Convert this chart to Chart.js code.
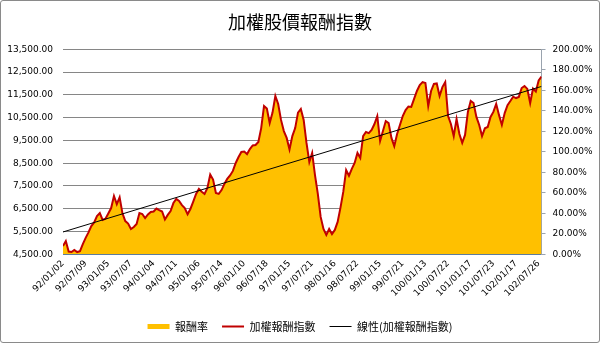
<!DOCTYPE html>
<html>
<head>
<meta charset="utf-8">
<title>加權股價報酬指數</title>
<script src="https://cdn.jsdelivr.net/npm/chart.js@4.4.0/dist/chart.umd.min.js"></script>
<style>
  html, body { margin: 0; padding: 0; background: #fff; }
  #frame { width: 600px; height: 343px; box-sizing: border-box; border: 1px solid #8a8a8a; border-radius: 3px; overflow: hidden; }
  canvas { display: block; }
</style>
</head>
<body>
<div id="frame"><canvas id="myChart" width="598" height="341"></canvas></div>
<script>
/////////////////////////////
// Data
/////////////////////////////

// 加權報酬指數 (about 8 samples per half year)
const indexValues = [
  4860, 5080, 4620, 4600, 4690, 4600, 4640, 4950, 5220, 5460,
  5740, 5900, 6180, 6310, 6010, 6060, 6290, 6530, 7060, 6700,
  7000, 6300, 5960, 5850, 5610, 5700, 5830, 6310, 6270, 6090,
  6250, 6360, 6380, 6510, 6440, 6380, 6030, 6230, 6400, 6750,
  6930, 6840, 6660, 6530, 6260, 6490, 6810, 7150, 7370, 7250,
  7150, 7410, 8000, 7780, 7190, 7150, 7320, 7590, 7810, 7960,
  8160, 8510, 8770, 8990, 9010, 8900, 9120, 9280, 9300, 9430,
  10040, 11010, 10900, 10260, 10720, 11450, 11100, 10400, 9910, 9610,
  9100, 9690, 10040, 10720, 10880, 10400, 9390, 8550, 8950, 7980,
  7150, 6140, 5610, 5350, 5610, 5390, 5570, 5920, 6550, 7250,
  8200, 7950, 8250, 8510, 8950, 8730, 9690, 9870, 9820, 9960,
  10220, 10570, 9480, 9910, 10350, 10260, 9610, 9250, 9780, 10180,
  10570, 10830, 10990, 10970, 11320, 11670, 11930, 12060, 12020, 11010,
  11670, 11980, 12000, 11450, 11840, 12060, 10570, 10220, 9690, 10440,
  9780, 9390, 9740, 10750, 11230, 11140, 10530, 10180, 9690, 10030,
  10090, 10530, 10750, 11100, 10610, 10180, 10700, 11050, 11230, 11420,
  11360, 11410, 11800, 11890, 11760, 11140, 11780, 11650, 12130, 12300
];

// 報酬率 (%)
const returnPct = [
  8.0, 12.9, 2.7, 2.2, 4.2, 2.2, 3.1, 10.0, 16.0, 21.3,
  27.6, 31.1, 37.3, 40.2, 33.6, 34.7, 39.8, 45.1, 56.9, 48.9,
  55.6, 40.0, 32.4, 30.0, 24.7, 26.7, 29.6, 40.2, 39.3, 35.3,
  38.9, 41.3, 41.8, 44.7, 43.1, 41.8, 34.0, 38.4, 42.2, 50.0,
  54.0, 52.0, 48.0, 45.1, 39.1, 44.2, 51.3, 58.9, 63.8, 61.1,
  58.9, 64.7, 77.8, 72.9, 59.8, 58.9, 62.7, 68.7, 73.6, 76.9,
  81.3, 89.1, 94.9, 99.8, 100.2, 97.8, 102.7, 106.2, 106.7, 109.6,
  123.1, 144.7, 142.2, 128.0, 138.2, 154.4, 146.7, 131.1, 120.2, 113.6,
  102.2, 115.3, 123.1, 138.2, 141.8, 131.1, 108.7, 90.0, 98.9, 77.3,
  58.9, 36.4, 24.7, 18.9, 24.7, 19.8, 23.8, 31.6, 45.6, 61.1,
  82.2, 76.7, 83.3, 89.1, 98.9, 94.0, 115.3, 119.3, 118.2, 121.3,
  127.1, 134.9, 110.7, 120.2, 130.0, 128.0, 113.6, 105.6, 117.3, 126.2,
  134.9, 140.7, 144.2, 143.8, 151.6, 159.3, 165.1, 168.0, 167.1, 144.7,
  159.3, 166.2, 166.7, 154.4, 163.1, 168.0, 134.9, 127.1, 115.3, 132.0,
  117.3, 108.7, 116.4, 138.9, 149.6, 147.6, 134.0, 126.2, 115.3, 122.9,
  124.2, 134.0, 138.9, 146.7, 135.8, 126.2, 137.8, 145.6, 149.6, 153.8,
  152.4, 153.6, 162.2, 164.2, 161.3, 147.6, 161.8, 158.9, 169.6, 173.3
];

// 線性 trend, first and last point
const trendEnds = [5480, 11870];

// date labels, one every half year
const tickLabels = [
  '92/01/02', '92/07/09', '93/01/05', '93/07/07', '94/01/04', '94/07/11',
  '95/01/06', '95/07/14', '96/01/10', '96/07/18', '97/01/15', '97/07/21',
  '98/01/16', '98/07/22', '99/01/15', '99/07/21', '100/01/13', '100/07/22',
  '101/01/17', '101/07/23', '102/01/17', '102/07/26'
];
const pointsPerLabel = 8;

/////////////////////////////
// Chart
/////////////////////////////

const lastIdx = indexValues.length - 1;
const toXY = arr => arr.map((v, i) => ({ x: i, y: v }));

// legend marks: box for the area, plain lines for the others
const legendMarks = [
  { pointStyle: 'rect', lineWidth: 0 },
  { pointStyle: 'line', lineWidth: 2 },
  { pointStyle: 'line', lineWidth: 1 }
];

Chart.defaults.font.family = '"DejaVu Sans", Verdana, sans-serif';
Chart.defaults.font.size = 9;
Chart.defaults.color = '#000';

const ctx = document.getElementById('myChart').getContext('2d');
const myChart = new Chart(ctx, {
  type: 'line',
  data: {
    datasets: [
      {
        label: '報酬率',
        data: toXY(returnPct),
        yAxisID: 'y1',
        fill: 'origin',
        backgroundColor: '#FFC000',
        borderColor: '#FFC000',
        borderWidth: 0,
        pointRadius: 0,
        order: 3
      },
      {
        label: '加權報酬指數',
        data: toXY(indexValues),
        yAxisID: 'y',
        fill: false,
        borderColor: '#C00000',
        backgroundColor: '#C00000',
        borderWidth: 2,
        pointRadius: 0,
        order: 2
      },
      {
        label: '線性(加權報酬指數)',
        data: [{ x: 0, y: trendEnds[0] }, { x: lastIdx, y: trendEnds[1] }],
        yAxisID: 'y',
        fill: false,
        borderColor: '#000',
        backgroundColor: '#000',
        borderWidth: 1,
        pointRadius: 0,
        order: 1
      }
    ]
  },
  options: {
    responsive: false,
    animation: false,
    layout: { padding: 0 },
    plugins: {
      tooltip: { enabled: false },
      title: {
        display: true,
        text: '加權股價報酬指數',
        color: '#000',
        font: { family: '"Noto Sans CJK TC", sans-serif', size: 18, weight: 'normal' },
        padding: { top: 10, bottom: 16.7 }
      },
      legend: {
        position: 'bottom',
        labels: {
          color: '#000',
          font: { family: '"Noto Sans CJK TC", sans-serif', size: 11 },
          usePointStyle: true,
          pointStyleWidth: 22,
          boxHeight: 5,
          padding: 14,
          generateLabels: chart => chart.data.datasets.map((ds, i) => ({
            text: ds.label,
            datasetIndex: i,
            fillStyle: ds.backgroundColor,
            strokeStyle: ds.borderColor,
            lineWidth: legendMarks[i].lineWidth,
            pointStyle: legendMarks[i].pointStyle,
            fontColor: '#000',
            hidden: false
          }))
        }
      }
    },
    scales: {
      x: {
        type: 'linear',
        min: 0,
        max: lastIdx,
        offset: false,
        grid: { display: false, drawTicks: false },
        border: { display: true, color: '#5b7ba0', width: 1 },
        ticks: {
          stepSize: pointsPerLabel,
          includeBounds: false,
          autoSkip: false,
          minRotation: 45,
          maxRotation: 45,
          padding: 4,
          callback: v => tickLabels[v / pointsPerLabel] || ''
        },
        afterFit: scale => { scale.height = 52.7; }
      },
      y: {
        position: 'left',
        min: 4500,
        max: 13500,
        grid: { color: '#868686', drawTicks: false },
        border: { display: false },
        ticks: {
          stepSize: 1000,
          padding: 10,
          callback: v => v.toLocaleString('en-US', { minimumFractionDigits: 2, maximumFractionDigits: 2 })
        },
        afterFit: scale => { scale.width = 62; }
      },
      y1: {
        position: 'right',
        min: 0,
        max: 200,
        grid: { drawOnChartArea: false, drawTicks: true, tickLength: 4, color: '#9aa3ae' },
        border: { display: true, color: '#9aa3ae' },
        ticks: {
          stepSize: 20,
          padding: 7,
          callback: v => v.toFixed(2) + '%'
        },
        afterFit: scale => { scale.width = 57.5; }
      }
    }
  }
});
</script>
</body>
</html>
